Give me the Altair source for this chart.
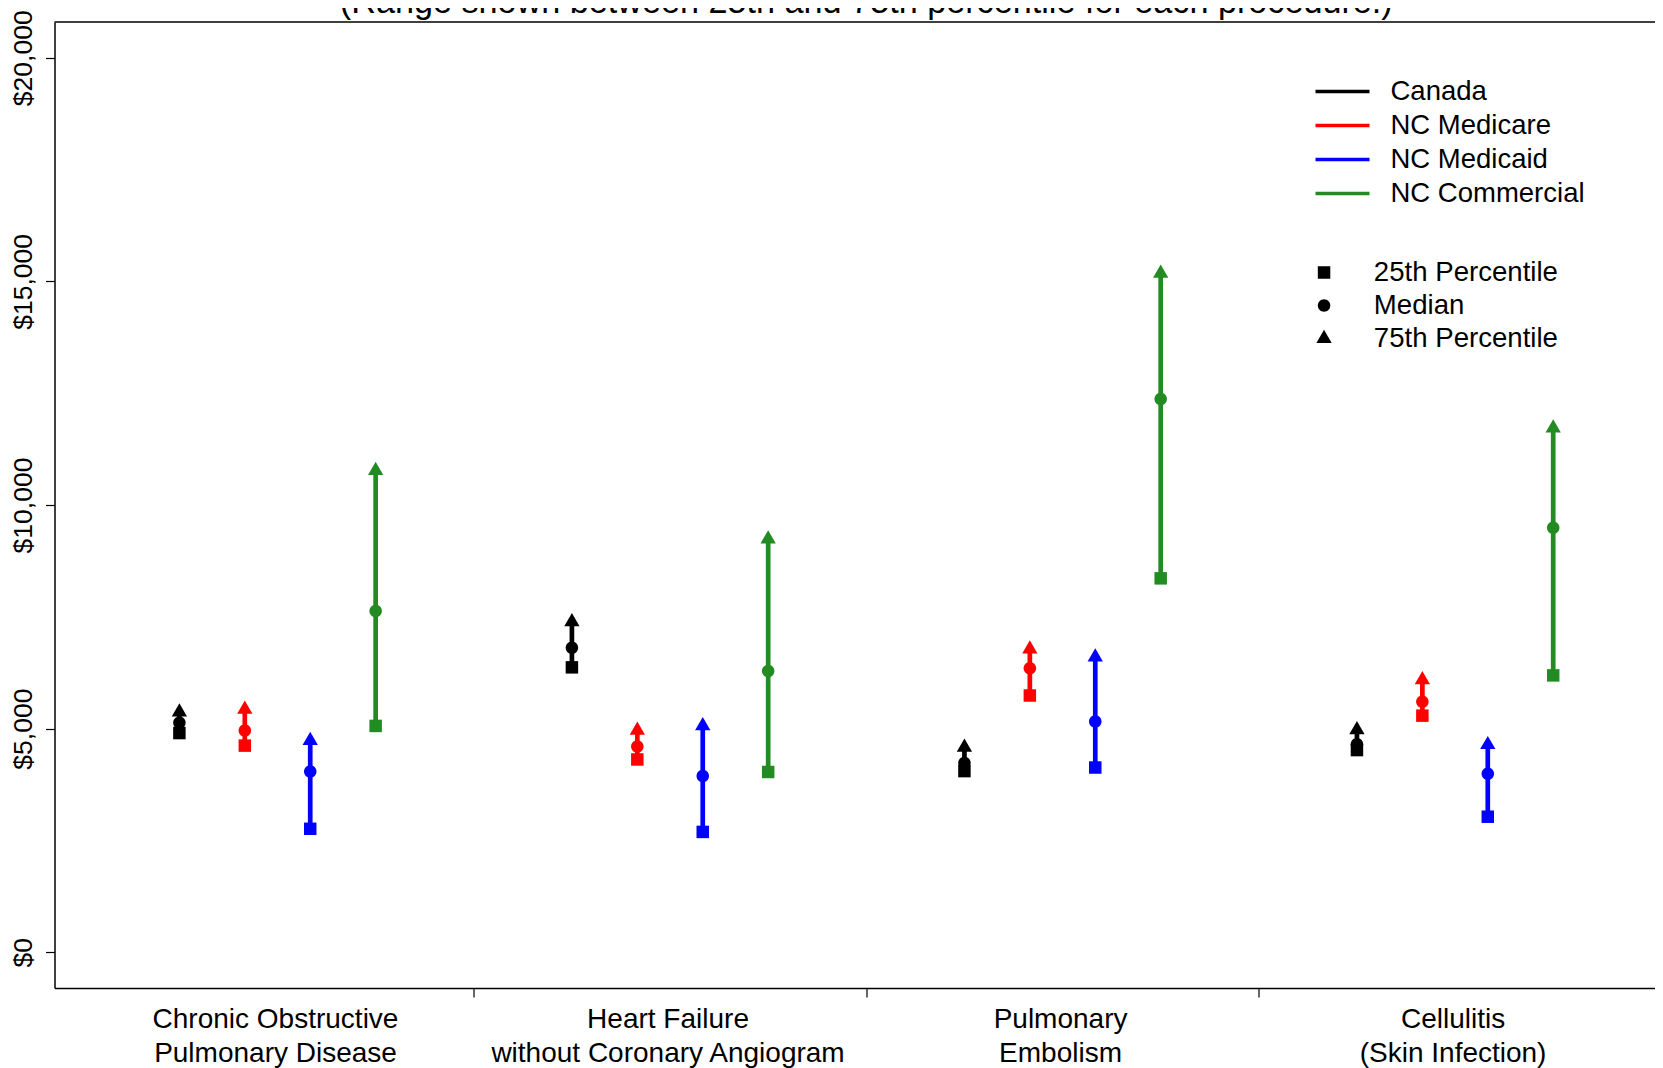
import altair as alt
import pandas as pd

FONT = "Liberation Sans"

# ---- data -------------------------------------------------------------
PROCEDURE_LABELS = [
    ["Chronic Obstructive", "Pulmonary Disease"],
    ["Heart Failure", "without Coronary Angiogram"],
    ["Pulmonary", "Embolism"],
    ["Cellulitis", "(Skin Infection)"],
]
PAYERS = ["Canada", "NC Medicare", "NC Medicaid", "NC Commercial"]
PAYER_COLORS = ["#000000", "#FF0000", "#0000FF", "#228B22"]
STATS = ["25th Percentile", "Median", "75th Percentile"]

# one value per procedure (COPD, Heart Failure, Pulmonary Embolism, Cellulitis)
CANADA_P25 = [4900, 6370, 4050, 4520]
CANADA_MED = [5130, 6810, 4230, 4650]
CANADA_P75 = [5370, 7390, 4580, 4970]

MEDICARE_P25 = [4620, 4310, 5740, 5290]
MEDICARE_MED = [4960, 4600, 6350, 5600]
MEDICARE_P75 = [5430, 4960, 6780, 6090]

MEDICAID_P25 = [2760, 2690, 4130, 3030]
MEDICAID_MED = [4040, 3940, 5160, 3990]
MEDICAID_P75 = [4730, 5060, 6600, 4640]

COMMERCIAL_P25 = [5060, 4030, 8360, 6190]
COMMERCIAL_MED = [7630, 6290, 12370, 9490]
COMMERCIAL_P75 = [10770, 9240, 15180, 11720]

Y_TICKS = [0, 5000, 10000, 15000, 20000]
GROUP_LABEL_POS = [2.5, 8.5, 14.5, 20.5]
GROUP_TICK_POS = [5.5, 11.5, 17.5]
TITLE = "(Range shown between 25th and 75th percentile for each procedure.)"
TITLE_POS = [11.5]

SERIES = {
    "Canada": (CANADA_P25, CANADA_MED, CANADA_P75),
    "NC Medicare": (MEDICARE_P25, MEDICARE_MED, MEDICARE_P75),
    "NC Medicaid": (MEDICAID_P25, MEDICAID_MED, MEDICAID_P75),
    "NC Commercial": (COMMERCIAL_P25, COMMERCIAL_MED, COMMERCIAL_P75),
}

range_rows, point_rows = [], []
for gi in range(len(PROCEDURE_LABELS)):
    for si, payer in enumerate(PAYERS):
        pos = 1 + 6 * gi + si
        p25, med, p75 = (arr[gi] for arr in SERIES[payer])
        range_rows.append({"pos": pos, "payer": payer, "p25": p25, "p75": p75})
        for stat, v in zip(STATS, (p25, med, p75)):
            point_rows.append({"pos": pos, "payer": payer, "stat": stat, "value": v})
ranges_df = pd.DataFrame(range_rows)
points_df = pd.DataFrame(point_rows)
title_df = pd.DataFrame({"x": TITLE_POS, "t": [TITLE]})

# ---- styling ----------------------------------------------------------
W, H = 1600.5, 966
SQUARE = "M-0.816,-0.816H0.816V0.816H-0.816Z"
CIRCLE = "M0.816,0A0.816,0.816,0,1,1,-0.816,0A0.816,0.816,0,1,1,0.816,0Z"
TRIANGLE = "M0,-1.155L1,0.577L-1,0.577Z"

x_scale = alt.Scale(domain=[-0.909, 23.556], nice=False, zero=False)
y_scale = alt.Scale(domain=[-800, 20800], nice=False, zero=False)
color_scale = alt.Scale(domain=PAYERS, range=PAYER_COLORS)
shape_scale = alt.Scale(domain=STATS, range=[SQUARE, CIRCLE, TRIANGLE])

expr = "''"
for pos, lines in reversed(list(zip(GROUP_LABEL_POS, PROCEDURE_LABELS))):
    arr = "[" + ",".join("'" + l + "'" for l in lines) + "]"
    expr = f"datum.value == {pos} ? {arr} : {expr}"
tick_test = "indexof([" + ",".join(str(v) for v in GROUP_TICK_POS) + "], datum.value) >= 0"

x_axis = alt.Axis(
    values=sorted(GROUP_LABEL_POS + GROUP_TICK_POS),
    labelExpr=expr,
    tickColor={"condition": {"test": tick_test, "value": "black"}, "value": "transparent"},
    tickSize=9, tickWidth=1.2,
    labelFontSize=28, labelColor="black", labelPadding=8, labelLineHeight=34,
    labelOffset=-2.5,
    labelBaseline="top", labelLimit=700, labelOverlap=False, labelFlush=False,
    domain=True, domainColor="black", domainWidth=1.5, grid=False, title=None,
)
y_axis = alt.Axis(
    values=Y_TICKS, format="$,.0f",
    labelAngle=270, labelAlign="center", labelBaseline="alphabetic",
    labelFontSize=26.5, labelColor="black", labelPadding=14,
    tickSize=9, tickWidth=1.2, tickColor="black",
    domain=True, domainColor="black", domainWidth=1.5,
    grid=False, title=None, labelOverlap=False,
)

rules = alt.Chart(ranges_df).mark_rule(strokeWidth=4.7).encode(
    x=alt.X("pos:Q", scale=x_scale, axis=x_axis),
    y=alt.Y("p25:Q", scale=y_scale, axis=y_axis),
    y2="p75:Q",
    color=alt.Color(
        "payer:N", scale=color_scale,
        legend=alt.Legend(
            title=None, orient="none", legendX=1259, legendY=52.5,
            symbolType="stroke", symbolSize=2916, symbolStrokeWidth=3.4,
            labelFontSize=27.5, labelColor="black", labelOffset=19,
            clipHeight=34, rowPadding=0, labelLimit=500, padding=0,
        ),
    ),
)

points = alt.Chart(points_df).mark_point(filled=True, opacity=1, size=234, strokeWidth=0).encode(
    x=alt.X("pos:Q", scale=x_scale, axis=x_axis),
    y=alt.Y("value:Q", scale=y_scale, axis=y_axis),
    color=alt.Color("payer:N", scale=color_scale, legend=None),
    shape=alt.Shape(
        "stat:N", scale=shape_scale,
        legend=alt.Legend(
            title=None, orient="none", legendX=1255.75, legendY=234.2,
            symbolFillColor="black", symbolStrokeWidth=0, symbolSize=234,
            labelFontSize=27.6, labelColor="black", labelOffset=36,
            clipHeight=32.6, rowPadding=0, labelLimit=500, padding=0,
        ),
    ),
)

title = alt.Chart(title_df).mark_text(
    fontSize=34.2, baseline="alphabetic", align="center", color="black", font=FONT
).encode(
    x=alt.X("x:Q", scale=x_scale, axis=x_axis),
    y=alt.value(-9.3),
    text="t:N",
)

# top edge of the plot frame (the right edge lies outside the picture)
frame_top = alt.Chart(title_df).mark_rule(color="black", strokeWidth=1.5).encode(
    x=alt.value(0), x2=alt.value(W), y=alt.value(0)
)

chart = (
    alt.layer(rules, points, title, frame_top)
    .properties(
        width=W, height=H,
        padding={"left": 46.5, "top": 14, "right": 0, "bottom": 80},
        autosize=alt.AutoSizeParams(type="none"),
    )
    .configure_view(stroke="transparent")
    .configure_axis(labelFont=FONT)
    .configure_legend(labelFont=FONT)
    .configure_text(font=FONT)
)

chart.save("out.html", embed_options={"renderer": "svg", "actions": False})
